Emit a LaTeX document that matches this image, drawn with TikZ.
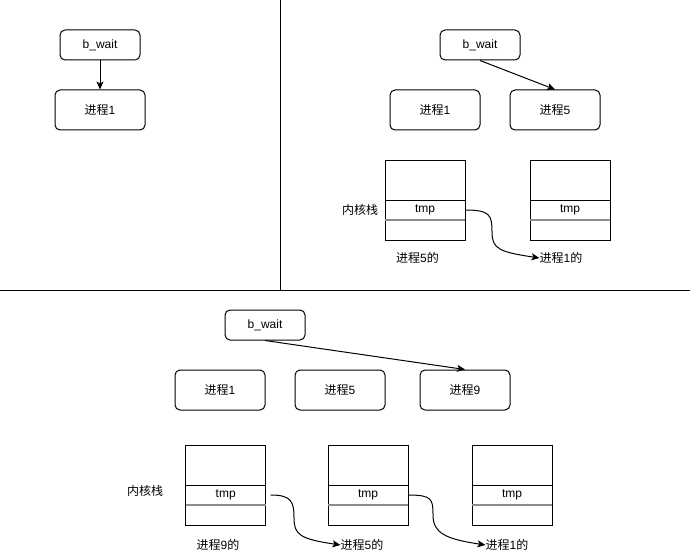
\documentclass[tikz,border=0pt]{standalone}
\usepackage{fontspec}
\setmainfont{Liberation Sans}
\newfontfamily\cjk{Noto Sans CJK SC}
\usetikzlibrary{arrows.meta,positioning}
\newcommand{\zh}[1]{{\cjk #1}}

\tikzset{
  waitbox/.style={draw, line width=1pt, rounded corners=5pt, minimum width=80, minimum height=30, inner sep=0},
  procbox/.style={draw, line width=1pt, rounded corners=5pt, minimum width=90, minimum height=40, inner sep=0},
  stacktop/.style={draw, line width=1pt, minimum width=80, minimum height=40, inner sep=0, outer sep=0},
  stackmid/.style={draw, line width=1pt, minimum width=80, minimum height=20, inner sep=0, outer sep=0},
  lbl/.style={inner sep=0},
  ptr/.style={line width=1pt, -{Stealth[length=8pt,width=7pt,inset=2pt]}},
}

\begin{document}
\begin{tikzpicture}[x=1pt, y=-1pt, font=\fontsize{12}{14}\selectfont]
  \useasboundingbox (0,0) rectangle (692,556);
  % panel separators
  \draw[line width=1pt](280.5,0)--(280.5,290.5);
  \draw[line width=1pt](0,290.5)--(690,290.5);

  % top left
  \node[waitbox] (wa) at (100,45) {b\_wait};
  \node[procbox] (pa1) at (100,110) {\zh{进程}1};
  \draw[ptr](wa.south)--(pa1.north);

  % top right
  \node[waitbox] (wb) at (480,45) {b\_wait};
  \node[procbox] (pb1) at (435,110) {\zh{进程}1};
  \node[procbox] (pb5) at (555,110) {\zh{进程}5};
  \draw[ptr](wb.south)--(pb5.north);

  % bottom
  \node[waitbox] (wc) at (265,325) {b\_wait};
  \node[procbox] (pc1) at (220,390) {\zh{进程}1};
  \node[procbox] (pc5) at (340,390) {\zh{进程}5};
  \node[procbox] (pc9) at (465,390) {\zh{进程}9};
  \draw[ptr](wc.south)--(pc9.north);

  % kernel stacks
  \foreach \nm/\cx/\cy in {sbf/425/180, sbo/570/180, scn/225.7/465, scf/368/465, sco/512/465}{
    \node[stacktop] (\nm top) at (\cx,\cy) {};
    \node[stackmid, below=0pt of \nm top] (\nm tmp) {tmp};
    \node[stackmid, below=0pt of \nm tmp] (\nm bot) {};
    \draw[line width=1.6pt, black!45](\nm tmp.south west)--(\nm tmp.south east);
  }

  \node[lbl] (kb) at (360,210) {\zh{内核栈}};
  \node[lbl] (kc) at (145,491) {\zh{内核栈}};

  \node[lbl] (lbf) at (417.5,258) {\zh{进程}5\zh{的}};
  \node[lbl] (lbo) at (561,258) {\zh{进程}1\zh{的}};
  \node[lbl] (lcn) at (218,545) {\zh{进程}9\zh{的}};
  \node[lbl] (lcf) at (362,545) {\zh{进程}5\zh{的}};
  \node[lbl] (lco) at (507,545) {\zh{进程}1\zh{的}};

  % saved pointers
  \draw[ptr](sbftmp.east) .. controls +(25,0) and +(0,-17) .. (492,232)
    .. controls +(0,17) and +(-40,-6) .. (lbo.west);
  \draw[ptr]([xshift=5pt]scntmp.east) .. controls +(21,0) and +(0,-16) .. (294,518)
    .. controls +(0,17) and +(-40,-6) .. (lcf.west);
  \draw[ptr](scftmp.east) .. controls +(24,0) and +(0,-16) .. (433,515)
    .. controls +(0,18) and +(-40,-6) .. (lco.west);
\end{tikzpicture}
\end{document}
